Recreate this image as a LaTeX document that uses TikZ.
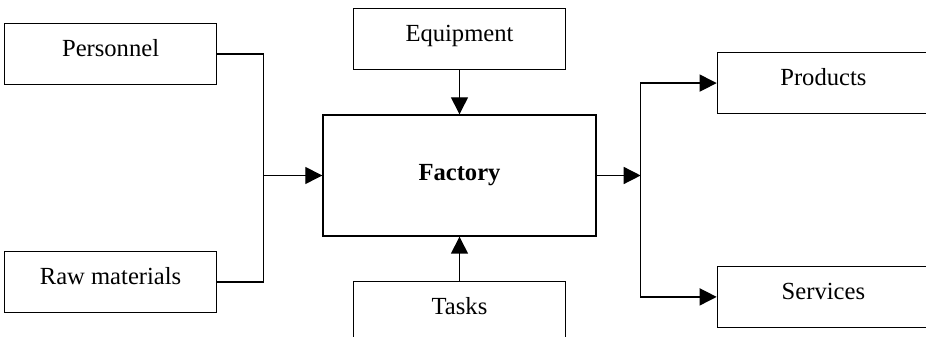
\documentclass[tikz,border=0pt]{standalone}
\usepackage{fontspec}
\setmainfont{Liberation Serif}
\usetikzlibrary{arrows.meta,positioning}

\begin{document}
\begin{tikzpicture}[font=\fontsize{14}{16}\selectfont,node distance=0pt,line width=0.8pt]
    \tikzset{unit/.style={draw,minimum width=4.24cm,minimum height=1.22cm,inner sep=2pt,text height=9.5pt,text depth=6.5pt},
      flow/.style={-{Triangle[length=0.34cm,width=0.34cm]}}}
    \useasboundingbox (-9.19,-3.23) rectangle (9.33,3.51);
    \clip (-9.19,-3.23) rectangle (9.33,3.51);
    \node[draw,minimum width=5.46cm,minimum height=2.42cm,font=\fontsize{14}{16}\selectfont\bfseries] (factory) at (0,0) {Factory};
    \node[unit,above=0.88cm of factory] (equip) {Equipment};
    \node[unit,below=0.88cm of factory] (tasks) {Tasks};
    \node[unit,above left=0.58cm and 2.1cm of factory] (pers) {Personnel};
    \node[unit,below left=0.28cm and 2.1cm of factory] (raw) {Raw materials};
    \node[unit,above right=0cm and 2.4cm of factory] (prod) {Products};
    \node[unit,below right=0.58cm and 2.4cm of factory] (serv) {Services};
    \coordinate[left=1.18cm of factory] (jin);
    \coordinate[right=0.88cm of factory] (jout);
    % inputs
    \draw (pers.east) -| (jin) |- (raw.east);
    \draw[flow] (jin) -- (factory);
    \draw[flow] (equip) -- (factory);
    \draw[flow] (tasks) -- (factory);
    % outputs
    \draw[flow] (factory) -- (jout);
    \draw[flow] (jout) |- (prod);
    \draw[flow] (jout) |- (serv);
  \end{tikzpicture}
\end{document}
